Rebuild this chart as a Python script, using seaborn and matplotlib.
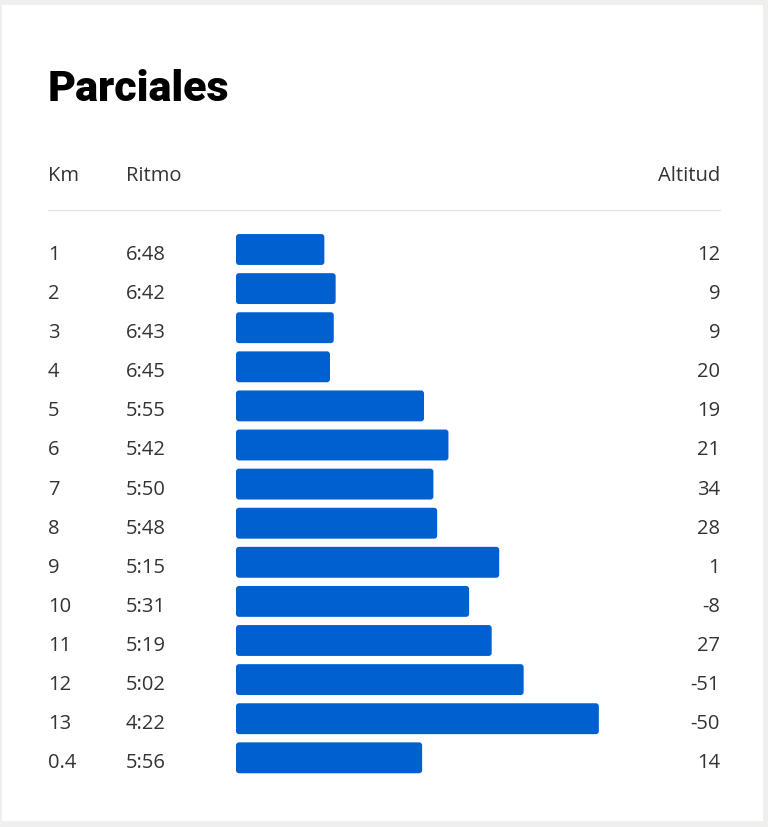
import seaborn as sns
import pandas as pd
import matplotlib.pyplot as plt
from matplotlib.patches import Rectangle, FancyBboxPatch
from matplotlib.lines import Line2D
from matplotlib.transforms import blended_transform_factory

km = ["1", "2", "3", "4", "5", "6", "7", "8", "9", "10", "11", "12", "13", "0.4"]
ritmo = ["6:48", "6:42", "6:43", "6:45", "5:55", "5:42", "5:50", "5:48",
         "5:15", "5:31", "5:19", "5:02", "4:22", "5:56"]
altitud = [12, 9, 9, 20, 19, 21, 34, 28, 1, -8, 27, -51, -50, 14]

# ritmo mas lento de la escala (las barras nacen aqui), segundos por km
P0 = 455

df = pd.DataFrame({"km": km, "ritmo": ritmo, "altitud": altitud})
df["seg"] = df["ritmo"].apply(lambda r: int(r.split(":")[0]) * 60 + int(r.split(":")[1]))
df["barra"] = P0 - df["seg"]

sns.set_style("white")
plt.rcParams['font.family'] = ['Open Sans', 'DejaVu Sans']

W, H = 768, 828
azul = "#0060cf"
gris = '#333333'

fig = plt.figure(figsize=(W / 100, H / 100), dpi=100)
fig.patch.set_facecolor('#efefed')
fondo = Rectangle((2 / W, 1 - 822 / H), (763 - 2) / W, (822 - 6) / H,
                  transform=fig.transFigure, facecolor='white',
                  edgecolor='none', zorder=-5)
fig.patches.append(fondo)

# eje de las barras: 1 s = 1.88 px, filas cada 39.1 px
px_s = 1.88
row = 39.1
top = 250.5 - row / 2
ax = fig.add_axes([236 / W, 1 - (top + 14 * row) / H, (720 - 236) / W, 14 * row / H])
ax.set_facecolor('none')
sns.barplot(data=df, x="barra", y="km", orient="h", color=azul,
            width=0.79, saturation=1, ax=ax)
ax.set_xlim(0, (720 - 236) / px_s)
ax.set_ylim(13.5, -0.5)
ax.axis('off')

# esquinas redondeadas (radio ~3 px)
for p in list(ax.patches):
    r = FancyBboxPatch((p.get_x(), p.get_y()), p.get_width(), p.get_height(),
                       boxstyle=f"round,pad=0,rounding_size={3 / px_s}",
                       mutation_aspect=px_s / row,
                       facecolor=azul, edgecolor="none")
    p.remove()
    ax.add_patch(r)

# texto de cada fila, linea base 9.5 px por debajo del centro de la barra
tr = blended_transform_factory(fig.transFigure, ax.transData)
off = 9.5 / row
for i, fila in df.iterrows():
    ax.text(48 / W, i + off, fila["km"], transform=tr, ha='left', va='baseline',
            fontsize=14.5, color=gris)
    ax.text(126 / W, i + off, fila["ritmo"], transform=tr, ha='left', va='baseline',
            fontsize=14.5, color=gris)
    ax.text(720 / W, i + off, str(fila["altitud"]), transform=tr, ha='right',
            va='baseline', fontsize=14.5, color=gris)

fig.text(48 / W, 1 - 101 / H, "Parciales", ha='left', va='baseline',
         fontsize=31, fontweight='heavy', color='black', family=['Roboto', 'DejaVu Sans'])

yb = 1 - 181 / H
fig.text(48 / W, yb, "Km", ha='left', va='baseline', fontsize=14.5, color=gris)
fig.text(126 / W, yb, "Ritmo", ha='left', va='baseline', fontsize=14.5, color=gris)
fig.text(720 / W, yb, "Altitud", ha='right', va='baseline', fontsize=14.5, color=gris)

fig.add_artist(Line2D([48 / W, 720 / W], [1 - 211 / H, 1 - 211 / H],
                      transform=fig.transFigure, color='#e3e3e3', linewidth=1))

fig.savefig("out.png", dpi=100, facecolor=fig.get_facecolor())
